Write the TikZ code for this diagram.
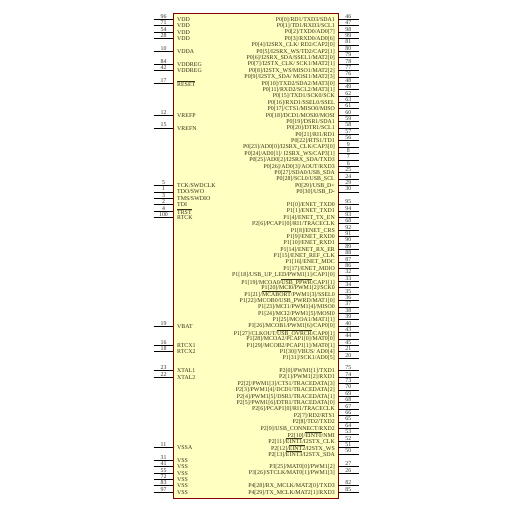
\documentclass[tikz,border=0pt]{standalone}
\usepackage{fontspec}
\setmainfont{Liberation Serif}
\usetikzlibrary{calc}
\definecolor{chipfill}{RGB}{255,255,194}
\definecolor{chipedge}{RGB}{132,0,0}
\definecolor{pinlabel}{RGB}{50,50,25}
\definecolor{pinnum}{RGB}{50,50,50}
\newcommand{\ovl}[1]{\ensuremath{\overline{\mbox{#1}}}}
\tikzset{
  pinline/.style={black,line width=1pt},
  pinname/.style={inner sep=0pt,text=pinlabel,font=\fontsize{5.9}{6}\selectfont},
  pinnr/.style={inner sep=0.6pt,text=pinnum,font=\fontsize{5.9}{6}\selectfont}
}
% left pin: row, number, name
\newcommand{\pinL}[3]{
  \coordinate (la#1) at (153.7,19.5+6.39*#1);
  \coordinate (lb#1) at (173.3,19.5+6.39*#1);
  \draw[pinline] (la#1) -- (lb#1) node[midway,above,pinnr] (lnr#1) {#2};
  \node[pinname,anchor=west] (lname#1) at ($(lb#1)+(3.7,0)$) {#3};
}
% right pin: row, number, name
\newcommand{\pinR}[3]{
  \coordinate (ra#1) at (338.3,19.5+6.39*#1);
  \coordinate (rb#1) at (358.5,19.5+6.39*#1);
  \draw[pinline] (ra#1) -- (rb#1) node[midway,above,pinnr] (rnr#1) {#2};
  \node[pinname,anchor=east] (rname#1) at ($(ra#1)+(-3.3,0)$) {#3};
}
\begin{document}
\begin{tikzpicture}[x=1pt,y=-1pt]
\useasboundingbox (0,0) rectangle (512,512);

\draw[chipedge,fill=chipfill,line width=1pt] (173.3,13.3) rectangle (338.3,498.3);

% left side
\pinL{0}{96}{VDD}
\pinL{1}{71}{VDD}
\pinL{2}{54}{VDD}
\pinL{3}{28}{VDD}
\pinL{5}{10}{VDDA}
\pinL{7}{84}{VDDREG}
\pinL{8}{42}{VDDREG}
\pinL{10}{17}{\ovl{RESET}}
\pinL{15}{12}{VREFP}
\pinL{17}{15}{VREFN}
\pinL{26}{5}{TCK/SWDCLK}
\pinL{27}{1}{TDO/SWO}
\pinL{28}{3}{TMS/SWDIO}
\pinL{29}{2}{TDI}
\pinL{30}{4}{\ovl{TRST}}
\pinL{31}{100}{RTCK}
\pinL{48}{19}{VBAT}
\pinL{51}{16}{RTCX1}
\pinL{52}{18}{RTCX2}
\pinL{55}{23}{XTAL1}
\pinL{56}{22}{XTAL2}
\pinL{67}{11}{VSSA}
\pinL{69}{31}{VSS}
\pinL{70}{41}{VSS}
\pinL{71}{55}{VSS}
\pinL{72}{72}{VSS}
\pinL{73}{83}{VSS}
\pinL{74}{97}{VSS}

% right side, port 0
\pinR{0}{46}{P0[0]/RD1/TXD3/SDA1}
\pinR{1}{47}{P0[1]/TD1/RXD3/SCL1}
\pinR{2}{98}{P0[2]/TXD0/AD0[7]}
\pinR{3}{99}{P0[3]/RXD0/AD0[6]}
\pinR{4}{81}{P0[4]/I2SRX\_CLK/ RD2/CAP2[0]}
\pinR{5}{80}{P0[5]/I2SRX\_WS/TD2/CAP2[1]}
\pinR{6}{79}{P0[6]/I2SRX\_SDA/SSEL1/MAT2[0]}
\pinR{7}{78}{P0[7]/I2STX\_CLK/ SCK1/MAT2[1]}
\pinR{8}{77}{P0[8]/I2STX\_WS/MISO1/MAT2[2]}
\pinR{9}{76}{P0[9]/I2STX\_SDA/ MOSI1/MAT2[3]}
\pinR{10}{48}{P0[10]/TXD2/SDA2/MAT3[0]}
\pinR{11}{49}{P0[11]/RXD2/SCL2/MAT3[1]}
\pinR{12}{62}{P0[15]/TXD1/SCK0/SCK}
\pinR{13}{63}{P0[16]/RXD1/SSEL0/SSEL}
\pinR{14}{61}{P0[17]/CTS1/MISO0/MISO}
\pinR{15}{60}{P0[18]/DCD1/MOSI0/MOSI}
\pinR{16}{59}{P0[19]/DSR1/SDA1}
\pinR{17}{58}{P0[20]/DTR1/SCL1}
\pinR{18}{57}{P0[21]/RI1/RD1}
\pinR{19}{56}{P0[22]/RTS1/TD1}
\pinR{20}{9}{P0[23]/AD0[0]/I2SRX\_CLK/CAP3[0]}
\pinR{21}{8}{P0[24]/AD0[1]/ I2SRX\_WS/CAP3[1]}
\pinR{22}{7}{P0[25]/AD0[2]/I2SRX\_SDA/TXD3}
\pinR{23}{6}{P0[26]/AD0[3]/AOUT/RXD3}
\pinR{24}{25}{P0[27]/SDA0/USB\_SDA}
\pinR{25}{24}{P0[28]/SCL0/USB\_SCL}
\pinR{26}{29}{P0[29]/USB\_D+}
\pinR{27}{30}{P0[30]/USB\_D-}

% port 1
\pinR{29}{95}{P1[0]/ENET\_TXD0}
\pinR{30}{94}{P1[1]/ENET\_TXD1}
\pinR{31}{93}{P1[4]/ENET\_TX\_EN}
\pinR{32}{68}{P2[6]/PCAP1[0]/RI1/TRACECLK}
\pinR{33}{92}{P1[8]/ENET\_CRS}
\pinR{34}{91}{P1[9]/ENET\_RXD0}
\pinR{35}{90}{P1[10]/ENET\_RXD1}
\pinR{36}{89}{P1[14]/ENET\_RX\_ER}
\pinR{37}{88}{P1[15]/ENET\_REF\_CLK}
\pinR{38}{87}{P1[16]/ENET\_MDC}
\pinR{39}{86}{P1[17]/ENET\_MDIO}
\pinR{40}{32}{P1[18]/USB\_UP\_LED/PWM1[1]/CAP1[0]}
\pinR{41}{33}{P1[19]/MCOA0/\ovl{USB\_PPWR}/CAP1[1]}
\pinR{42}{34}{P1[20]/MCI0/PWM1[2]/SCK0}
\pinR{43}{35}{P1[21]/\ovl{MCABORT}/PWM1[3]/SSEL0}
\pinR{44}{36}{P1[22]/MCOB0/USB\_PWRD/MAT1[0]}
\pinR{45}{37}{P1[23]/MCI1/PWM1[4]/MISO0}
\pinR{46}{38}{P1[24]/MCI2/PWM1[5]/MOSI0}
\pinR{47}{39}{P1[25]/MCOA1/MAT1[1]}
\pinR{48}{40}{P1[26]/MCOB1/PWM1[6]/CAP0[0]}
\pinR{49}{43}{P1[27]/CLKOUT/\ovl{USB\_OVRCR}/CAP0[1]}
\pinR{50}{44}{P1[28]/MCOA2/PCAP1[0]/MAT0[0]}
\pinR{51}{45}{P1[29]/MCOB2/PCAP1[1]/MAT0[1]}
\pinR{52}{21}{P1[30]/VBUS/ AD0[4]}
\pinR{53}{20}{P1[31]/SCK1/AD0[5]}

% port 2
\pinR{55}{75}{P2[0]/PWM1[1]/TXD1}
\pinR{56}{74}{P2[1]/PWM1[2]/RXD1}
\pinR{57}{73}{P2[2]/PWM1[3]/CTS1/TRACEDATA[3]}
\pinR{58}{70}{P2[3]/PWM1[4]/DCD1/TRACEDATA[2]}
\pinR{59}{69}{P2[4]/PWM1[5]/DSR1/TRACEDATA[1]}
\pinR{60}{68}{P2[5]/PWM1[6]/DTR1/TRACEDATA[0]}
\pinR{61}{67}{P2[6]/PCAP1[0]/RI1/TRACECLK}
\pinR{62}{66}{P2[7]/RD2/RTS1}
\pinR{63}{65}{P2[8]/TD2/TXD2}
\pinR{64}{64}{P2[9]/USB\_CONNECT/RXD2}
\pinR{65}{53}{P2[10]/\ovl{EINT0}/NMI}
\pinR{66}{52}{P2[11]/\ovl{EINT1}/I2STX\_CLK}
\pinR{67}{51}{P2[12]/\ovl{EINT2}/I2STX\_WS}
\pinR{68}{50}{P2[13]/\ovl{EINT3}/I2STX\_SDA}

% ports 3 and 4
\pinR{70}{27}{P3[25]/MAT0[0]/PWM1[2]}
\pinR{71}{26}{P3[26]/STCLK/MAT0[1]/PWM1[3]}
\pinR{73}{82}{P4[28]/RX\_MCLK/MAT2[0]/TXD3}
\pinR{74}{85}{P4[29]/TX\_MCLK/MAT2[1]/RXD3}
\end{tikzpicture}
\end{document}
